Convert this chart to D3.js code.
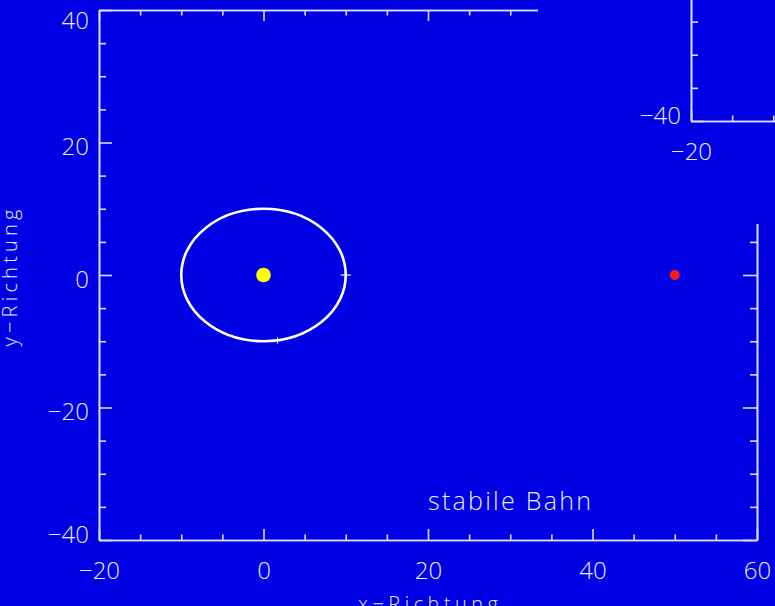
<!DOCTYPE html>
<html>
<head>
<meta charset="utf-8">
<script src="https://cdn.jsdelivr.net/npm/d3@7/dist/d3.min.js"></script>
<style>
  html, body { margin: 0; padding: 0; background: #0000e4; overflow: hidden; }
  svg { display: block; }
  text { font-family: "Open Sans", "DejaVu Sans", sans-serif; font-weight: 300; fill: #ececff; }
</style>
</head>
<body>
<svg id="chart" width="775" height="606"></svg>
<script>
// Axis ranges and tick values
const xDomain = [-20, 60];
const yDomain = [-40, 40];
const xTicks = [-20, 0, 20, 40, 60];
const yTicks = [-40, -20, 0, 20, 40];
const minorStep = 5;

// Bodies: central star, planet on a circular orbit, distant body
const sun = [0, 0];
const orbitCenter = [0, 0];
const orbitRadius = 10;
const orbitMarks = [[10, 0], [1.7, -9.9]];
const planet = [50, 0];

// Annotation and axis titles
const noteText = "stabile Bahn";
const notePos = [20, -35.5];
const xTitle = "x\u2212Richtung";
const yTitle = "y\u2212Richtung";

const W = 775, H = 606;
const plot = { left: 99, right: 757, top: 10, bottom: 540 };
const BG = "#0000e4";
const FG = "#dcdcff";

const svg = d3.select("#chart");
svg.append("rect").attr("width", W).attr("height", H).attr("fill", BG);

const x = d3.scaleLinear().domain(xDomain).range([plot.left, plot.right]);
const y = d3.scaleLinear().domain(yDomain).range([plot.bottom, plot.top]);
const fmt = d3.format("d");

const minorX = d3.range(xDomain[0], xDomain[1] + 0.001, minorStep).filter(v => !xTicks.includes(v));
const minorY = d3.range(yDomain[0], yDomain[1] + 0.001, minorStep).filter(v => !yTicks.includes(v));

function styleAxis(g) {
  g.selectAll("path.domain").attr("stroke", FG).attr("stroke-width", 1.6);
  g.selectAll(".tick line").attr("stroke", FG).attr("stroke-width", 1.6);
  g.attr("font-size", null).attr("font-family", null);
}

// Frame with ticks on all four sides, labels on left and bottom.
// yLabelFilter decides which left-axis labels are written.
function drawFrame(root, yLabelFilter = () => true) {
  // left
  root.append("g").attr("transform", `translate(${plot.left},0)`)
    .call(d3.axisLeft(y).tickValues(minorY).tickSizeInner(-7).tickSizeOuter(0).tickFormat(""))
    .call(styleAxis);
  const gl = root.append("g").attr("transform", `translate(${plot.left},0)`)
    .call(d3.axisLeft(y).tickValues(yTicks).tickSizeInner(-13).tickSizeOuter(0).tickPadding(10)
      .tickFormat(d => yLabelFilter(d) ? fmt(d) : ""))
    .call(styleAxis);
  gl.selectAll(".tick text")
    .attr("font-size", 24)
    .attr("fill", "#ececff")
    .attr("dy", d => {
      const yy = y(d);
      const base = Math.max(Math.min(yy + 12, plot.bottom + 2), plot.top + 18);
      return (base - yy) + "px";
    });

  // bottom
  root.append("g").attr("transform", `translate(0,${plot.bottom})`)
    .call(d3.axisBottom(x).tickValues(minorX).tickSizeInner(-5.5).tickSizeOuter(0).tickFormat(""))
    .call(styleAxis);
  const gb = root.append("g").attr("transform", `translate(0,${plot.bottom})`)
    .call(d3.axisBottom(x).tickValues(xTicks).tickSizeInner(-11).tickSizeOuter(0).tickPadding(0).tickFormat(fmt))
    .call(styleAxis);
  gb.selectAll(".tick text")
    .attr("font-size", 24)
    .attr("fill", "#ececff")
    .attr("y", 0).attr("dy", "39px");

  // top
  root.append("g").attr("transform", `translate(0,${plot.top})`)
    .call(d3.axisTop(x).tickValues(minorX).tickSizeInner(-5.5).tickSizeOuter(0).tickFormat(""))
    .call(styleAxis);
  root.append("g").attr("transform", `translate(0,${plot.top})`)
    .call(d3.axisTop(x).tickValues(xTicks).tickSizeInner(-11).tickSizeOuter(0).tickFormat(""))
    .call(styleAxis);

  // right
  root.append("g").attr("transform", `translate(${plot.right},0)`)
    .call(d3.axisRight(y).tickValues(minorY).tickSizeInner(-7).tickSizeOuter(0).tickFormat(""))
    .call(styleAxis);
  root.append("g").attr("transform", `translate(${plot.right},0)`)
    .call(d3.axisRight(y).tickValues(yTicks).tickSizeInner(-14).tickSizeOuter(0).tickFormat(""))
    .call(styleAxis);

  // axis titles
  root.append("text")
    .attr("x", (plot.left + plot.right) / 2).attr("y", 610.5)
    .attr("text-anchor", "middle").attr("font-size", 20)
    .attr("textLength", 140).attr("lengthAdjust", "spacing")
    .text(xTitle);
  root.append("text")
    .attr("transform", `translate(16.5,${(plot.top + plot.bottom) / 2 + 3}) rotate(-90)`)
    .attr("text-anchor", "middle").attr("font-size", 20)
    .attr("textLength", 137).attr("lengthAdjust", "spacing")
    .text(yTitle);
}

const main = svg.append("g");
drawFrame(main);

// Orbit
main.append("ellipse")
  .attr("cx", x(orbitCenter[0])).attr("cy", y(orbitCenter[1]))
  .attr("rx", x(orbitRadius) - x(0)).attr("ry", y(0) - y(orbitRadius))
  .attr("fill", "none").attr("stroke", "#ffffff").attr("stroke-width", 2.6);

main.selectAll("g.mark").data(orbitMarks).join("g")
  .attr("class", "mark")
  .attr("transform", d => `translate(${x(d[0])},${y(d[1])})`)
  .each(function () {
    const g = d3.select(this);
    g.append("line").attr("x1", -5).attr("x2", 5).attr("y1", 0).attr("y2", 0);
    g.append("line").attr("x1", 0).attr("x2", 0).attr("y1", -3).attr("y2", 3);
    g.selectAll("line").attr("stroke", "#ffffff").attr("stroke-width", 1.2);
  });

// Star and distant body
main.append("circle")
  .attr("cx", x(sun[0])).attr("cy", y(sun[1])).attr("r", 7.3)
  .attr("fill", "#ffff00");
main.append("circle")
  .attr("cx", x(planet[0])).attr("cy", y(planet[1])).attr("r", 5)
  .attr("fill", "#ff1a1a");

// Annotation
main.append("text")
  .attr("x", x(notePos[0])).attr("y", y(notePos[1]))
  .attr("font-size", 25)
  .attr("textLength", 163).attr("lengthAdjust", "spacing")
  .text(noteText);

// Upper right: cleared panel with an offset copy of the frame
const panel = { x: 538, y: 0, w: W - 538, h: 224 };
const shift = [592, -419];
svg.append("rect")
  .attr("x", panel.x).attr("y", panel.y).attr("width", panel.w).attr("height", panel.h)
  .attr("fill", BG);
svg.append("clipPath").attr("id", "panelClip")
  .append("rect")
  .attr("x", panel.x).attr("y", panel.y).attr("width", panel.w).attr("height", panel.h);
const ghost = svg.append("g").attr("clip-path", "url(#panelClip)")
  .append("g").attr("transform", `translate(${shift[0]},${shift[1]})`);
drawFrame(ghost, d => y(d) + shift[1] > 0);
</script>
</body>
</html>
